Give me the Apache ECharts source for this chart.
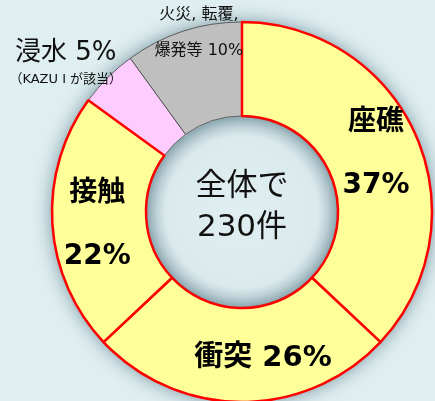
<!DOCTYPE html>
<html lang="ja">
<head>
    <meta charset="UTF-8">
    <title>事故種類別</title>
    <script src="https://cdn.jsdelivr.net/npm/echarts@6/dist/echarts.min.js"></script>
    <style>
        html, body { margin: 0; padding: 0; background: #dfeef0; }
        #main { width: 435px; height: 401px; }
    </style>
</head>
<body>
<div id="main"></div>
<script type="text/javascript">
    // 事故の種類（全体で230件）
    var names = ['浸水', '火災, 転覆, 爆発等', '座礁', '衝突', '接触'];
    var percents = [5, 10, 37, 26, 22];
    var colors = ['#ffccff', '#bfbfbf', '#ffff99', '#ffff99', '#ffff99'];
    var centerText = '全体で\n230件';

    var fontJP = '"DejaVu Sans", "Noto Sans CJK JP", sans-serif';

    function labelText(i) {
        if (i == 0) return '{a|浸水 5%}\n{s|（KAZU I が該当）}';
        if (i == 1) return '{f|火災, 転覆,}\n{f|爆発等 ' + percents[i] + '%}';
        if (i == 3) return '{b|' + names[i] + ' ' + percents[i] + '%}';
        return '{t|' + names[i] + '}\n{t|' + percents[i] + '%}';
    }

    // label offsets from the slice's middle
    var shifts = [[-73, -44], [2, -40], [0, 0], [21, 0], [1, 4]];

    var data = names.map(function (n, i) {
        var yellow = colors[i] == '#ffff99';
        return {
            name: n,
            value: percents[i],
            itemStyle: {
                color: colors[i],
                borderColor: yellow ? '#ff0000' : '#404040',
                borderWidth: yellow ? 2.5 : 0.8
            }
        };
    });

    var myChart = echarts.init(document.getElementById('main'));
    var option = {
        backgroundColor: '#dfeef0',
        animation: false,
        graphic: [{
            // soft shade inside the hole
            type: 'circle',
            shape: { cx: 242, cy: 212, r: 95 },
            style: {
                fill: {
                    type: 'radial', x: 0.5, y: 0.5, r: 0.5,
                    colorStops: [
                        { offset: 0, color: 'rgba(0,50,70,0)' },
                        { offset: 0.8, color: 'rgba(0,50,70,0.02)' },
                        { offset: 1, color: 'rgba(0,50,70,0.18)' }
                    ]
                }
            },
            silent: true,
            z: 5
        }, {
            type: 'text',
            x: 242,
            y: 207,
            style: {
                text: centerText,
                font: '31px ' + fontJP,
                fill: '#111',
                align: 'center',
                verticalAlign: 'middle',
                lineHeight: 41
            },
            z: 10
        }],
        series: [
            {
                // shadow under the ring
                type: 'pie',
                silent: true,
                center: [242, 212],
                radius: [96, 190],
                label: { show: false },
                itemStyle: {
                    color: '#dfeef0',
                    shadowBlur: 18,
                    shadowColor: 'rgba(0, 50, 70, 0.5)'
                },
                data: [1],
                z: 1
            },
            {
                type: 'pie',
                center: [242, 212],
                radius: [96, 190],
                startAngle: 144,
                clockwise: true,
                z: 2,
                label: {
                    show: true,
                    position: 'inside',
                    formatter: function (p) { return labelText(p.dataIndex); },
                    rich: {
                        t: { fontFamily: fontJP, fontSize: 28, fontWeight: 'bold', color: '#000', lineHeight: 63, align: 'center' },
                        b: { fontFamily: fontJP, fontSize: 29, fontWeight: 'bold', color: '#000', align: 'center' },
                        a: { fontFamily: fontJP, fontSize: 26, color: '#111', lineHeight: 30, align: 'center' },
                        s: { fontFamily: fontJP, fontSize: 13, color: '#111', lineHeight: 24, align: 'center' },
                        f: { fontFamily: fontJP, fontSize: 16, color: '#111', lineHeight: 36, align: 'center' }
                    }
                },
                labelLine: { show: false },
                labelLayout: function (params) {
                    var s = shifts[params.dataIndex];
                    return { dx: s[0], dy: s[1] };
                },
                emphasis: { disabled: true },
                data: data
            }
        ]
    };
    myChart.setOption(option);
</script>
</body>
</html>
